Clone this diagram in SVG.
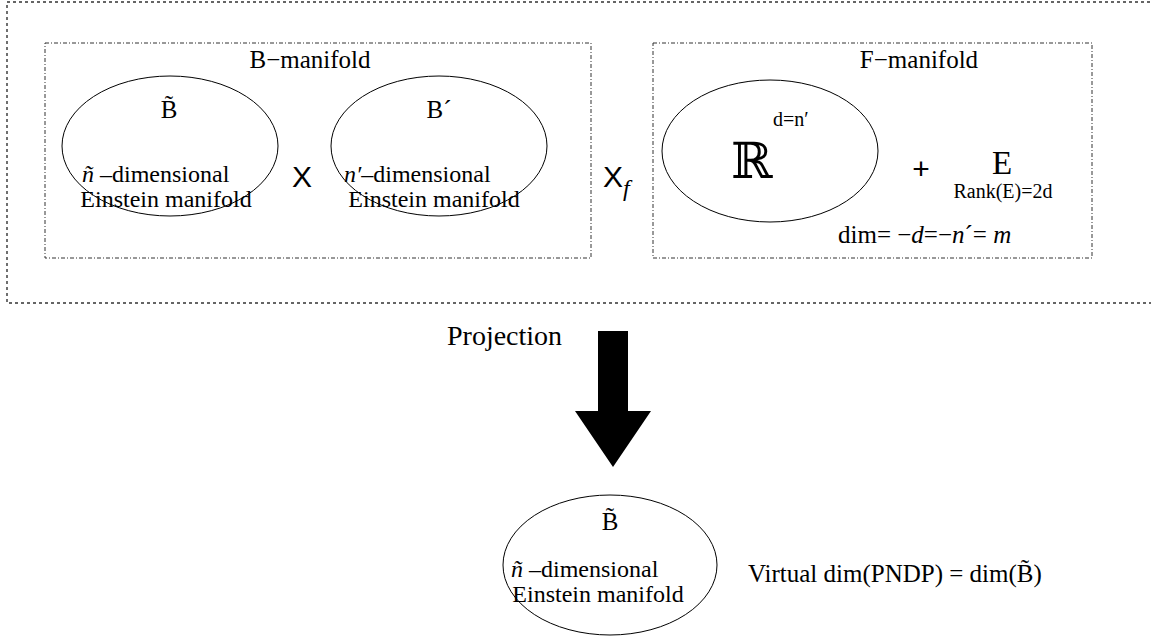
<svg xmlns="http://www.w3.org/2000/svg" width="1151" height="641" viewBox="0 0 1151 641">
<style>
.t{font-family:"Liberation Serif","Times New Roman",serif;fill:#000}
.s{font-family:"Liberation Sans",Arial,sans-serif;fill:#000}
.box{fill:none;stroke:#333;stroke-width:1;stroke-dasharray:4,2,1,2}
.node{fill:none;stroke:#000;stroke-width:1}
</style>
<rect id="outer" x="7" y="2" width="1160" height="301" fill="none" stroke="#333" stroke-width="1.4" stroke-dasharray="3,3"/>
<g id="b-manifold">
<rect class="box" x="45" y="43" width="546" height="215"/>
<text class="t" x="310" y="68" font-size="25" text-anchor="middle">B−manifold</text>
</g>
<g id="b-tilde">
<ellipse class="node" cx="170" cy="146" rx="108" ry="70"/>
<text class="t" x="169" y="118" font-size="25" text-anchor="middle">B̃</text>
<text class="t" x="82" y="182" font-size="24"><tspan font-style="italic">ñ</tspan> –dimensional</text>
<text class="t" x="166" y="207" font-size="24" text-anchor="middle">Einstein manifold</text>
</g>
<text class="s" x="302" y="187" font-size="30" text-anchor="middle">X</text>
<g id="b-prime">
<ellipse class="node" cx="439" cy="146" rx="108" ry="70"/>
<text class="t" x="439" y="118" font-size="25" text-anchor="middle">B´</text>
<text class="t" x="344" y="182" font-size="24"><tspan font-style="italic">n′</tspan>–dimensional</text>
<text class="t" x="434" y="207" font-size="24" text-anchor="middle">Einstein manifold</text>
</g>
<text class="s" x="603" y="187" font-size="30">X<tspan class="t" font-style="italic" font-size="24" dy="9">f</tspan></text>
<g id="f-manifold">
<rect class="box" x="653" y="43" width="439" height="215"/>
<text class="t" x="919" y="68" font-size="25" text-anchor="middle">F−manifold</text>
</g>
<g id="r-node">
<ellipse class="node" cx="770" cy="151" rx="108" ry="71"/>
<text x="731" y="178" font-size="50" font-family="DejaVu Serif, serif">ℝ</text>
<text class="t" x="773" y="126" font-size="20">d=n′</text>
</g>
<text class="s" x="921" y="179" font-size="30" text-anchor="middle">+</text>
<g id="e-node">
<text class="t" x="1002" y="174" font-size="33" text-anchor="middle">E</text>
<text class="t" x="1003" y="198" font-size="20" text-anchor="middle">Rank(E)=2d</text>
</g>
<text class="t" x="838" y="243" font-size="25">dim= −<tspan font-style="italic">d</tspan>=−<tspan font-style="italic">n</tspan>´= <tspan font-style="italic">m</tspan></text>
<g id="connectors">
<text class="t" x="447" y="345" font-size="28">Projection</text>
<polygon points="598,331 628,331 628,411 651,411 613,467 575,411 598,411" fill="#000"/>
</g>
<g id="b-tilde-bottom">
<ellipse class="node" cx="610" cy="565" rx="107" ry="70"/>
<text class="t" x="610" y="530" font-size="25" text-anchor="middle">B̃</text>
<text class="t" x="511" y="577" font-size="24"><tspan font-style="italic">ñ</tspan> –dimensional</text>
<text class="t" x="598" y="602" font-size="24" text-anchor="middle">Einstein manifold</text>
</g>
<text class="t" x="748" y="582" font-size="25">Virtual dim(PNDP) = dim(B̃)</text>
</svg>
